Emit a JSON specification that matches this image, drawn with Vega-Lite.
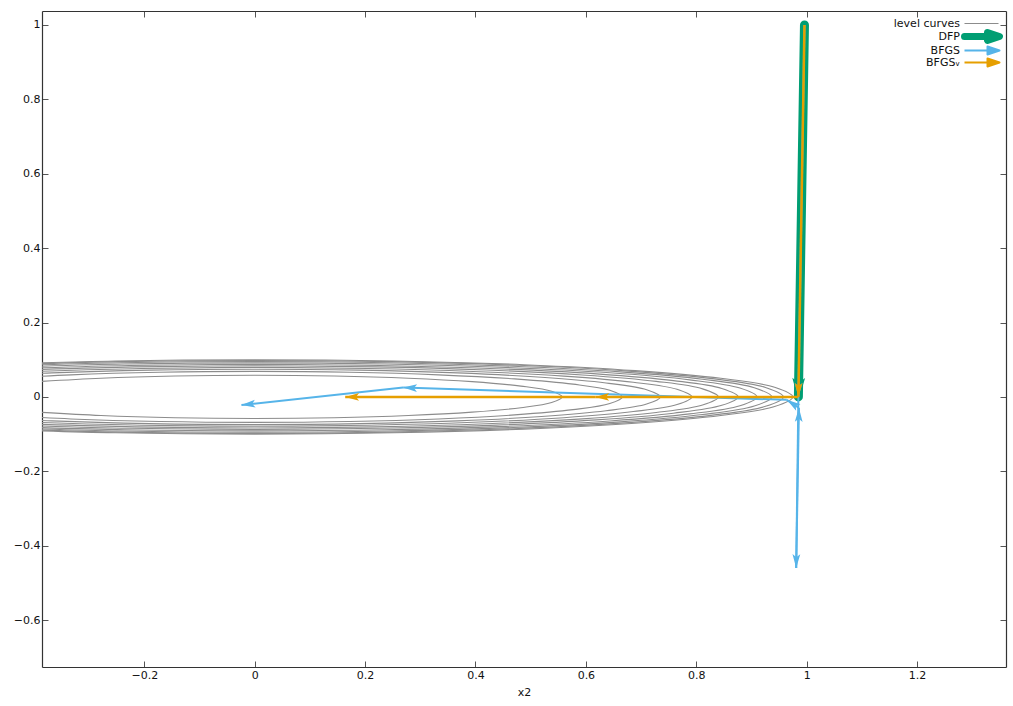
{
  "$schema": "https://vega.github.io/schema/vega-lite/v6.json",
  "width": 964,
  "height": 656,
  "autosize": {"type": "none"},
  "padding": {"left": 42, "top": 11, "right": 7, "bottom": 39},
  "background": "white",
  "datasets": {
    "contours": [
      {"c":1,"i":0,"x":-0.3938,"y":0.041},{"c":1,"i":1,"x":-0.2785,"y":0.0502},{"c":1,"i":2,"x":-0.1443,"y":0.056},{"c":1,"i":3,"x":0,"y":0.058},{"c":1,"i":4,"x":0.1443,"y":0.056},{"c":1,"i":5,"x":0.2785,"y":0.0502},{"c":1,"i":6,"x":0.3938,"y":0.041},{"c":1,"i":7,"x":0.4824,"y":0.029},{"c":1,"i":8,"x":0.538,"y":0.015},{"c":1,"i":9,"x":0.557,"y":0},
      {"c":1,"i":10,"x":0.538,"y":-0.015},{"c":1,"i":11,"x":0.4824,"y":-0.029},{"c":1,"i":12,"x":0.3938,"y":-0.041},{"c":1,"i":13,"x":0.2785,"y":-0.0502},{"c":1,"i":14,"x":0.1443,"y":-0.056},{"c":1,"i":15,"x":0,"y":-0.058},{"c":1,"i":16,"x":-0.1443,"y":-0.056},{"c":1,"i":17,"x":-0.2785,"y":-0.0502},{"c":1,"i":18,"x":-0.3938,"y":-0.041},

      {"c":2,"i":0,"x":-0.4709,"y":0.0484},{"c":2,"i":1,"x":-0.333,"y":0.0593},{"c":2,"i":2,"x":-0.1725,"y":0.0662},{"c":2,"i":3,"x":0,"y":0.0685},{"c":2,"i":4,"x":0.1725,"y":0.0662},{"c":2,"i":5,"x":0.333,"y":0.0593},{"c":2,"i":6,"x":0.4709,"y":0.0484},{"c":2,"i":7,"x":0.5768,"y":0.0343},{"c":2,"i":8,"x":0.6434,"y":0.0177},{"c":2,"i":9,"x":0.666,"y":0},
      {"c":2,"i":10,"x":0.6434,"y":-0.0177},{"c":2,"i":11,"x":0.5768,"y":-0.0343},{"c":2,"i":12,"x":0.4709,"y":-0.0484},{"c":2,"i":13,"x":0.333,"y":-0.0593},{"c":2,"i":14,"x":0.1725,"y":-0.0662},{"c":2,"i":15,"x":0,"y":-0.0685},{"c":2,"i":16,"x":-0.1725,"y":-0.0662},{"c":2,"i":17,"x":-0.333,"y":-0.0593},{"c":2,"i":18,"x":-0.4709,"y":-0.0484},

      {"c":3,"i":0,"x":-0.5196,"y":0.0527},{"c":3,"i":1,"x":-0.3675,"y":0.0645},{"c":3,"i":2,"x":-0.1904,"y":0.072},{"c":3,"i":3,"x":0,"y":0.0745},{"c":3,"i":4,"x":0.1904,"y":0.072},{"c":3,"i":5,"x":0.3675,"y":0.0645},{"c":3,"i":6,"x":0.5196,"y":0.0527},{"c":3,"i":7,"x":0.6365,"y":0.0373},{"c":3,"i":8,"x":0.71,"y":0.0193},{"c":3,"i":9,"x":0.735,"y":0},
      {"c":3,"i":10,"x":0.71,"y":-0.0193},{"c":3,"i":11,"x":0.6365,"y":-0.0373},{"c":3,"i":12,"x":0.5196,"y":-0.0527},{"c":3,"i":13,"x":0.3675,"y":-0.0645},{"c":3,"i":14,"x":0.1904,"y":-0.072},{"c":3,"i":15,"x":0,"y":-0.0745},{"c":3,"i":16,"x":-0.1904,"y":-0.072},{"c":3,"i":17,"x":-0.3675,"y":-0.0645},{"c":3,"i":18,"x":-0.5196,"y":-0.0527},

      {"c":4,"i":0,"x":-0.396,"y":0.0684},{"c":4,"i":1,"x":-0.2051,"y":0.0763},{"c":4,"i":2,"x":0,"y":0.079},{"c":4,"i":3,"x":0.2051,"y":0.0763},{"c":4,"i":4,"x":0.396,"y":0.0684},{"c":4,"i":5,"x":0.56,"y":0.0559},{"c":4,"i":6,"x":0.6859,"y":0.0395},{"c":4,"i":7,"x":0.7651,"y":0.0205},{"c":4,"i":8,"x":0.792,"y":0},
      {"c":4,"i":9,"x":0.7651,"y":-0.0205},{"c":4,"i":10,"x":0.6859,"y":-0.0395},{"c":4,"i":11,"x":0.56,"y":-0.0559},{"c":4,"i":12,"x":0.396,"y":-0.0684},{"c":4,"i":13,"x":0.2051,"y":-0.0763},{"c":4,"i":14,"x":0,"y":-0.079},{"c":4,"i":15,"x":-0.2051,"y":-0.0763},{"c":4,"i":16,"x":-0.396,"y":-0.0684},

      {"c":5,"i":0,"x":-0.42,"y":0.0723},{"c":5,"i":1,"x":-0.2176,"y":0.0807},{"c":5,"i":2,"x":0,"y":0.0835},{"c":5,"i":3,"x":0.2176,"y":0.0807},{"c":5,"i":4,"x":0.42,"y":0.0723},{"c":5,"i":5,"x":0.5939,"y":0.059},{"c":5,"i":6,"x":0.7274,"y":0.0418},{"c":5,"i":7,"x":0.8114,"y":0.0216},{"c":5,"i":8,"x":0.84,"y":0},
      {"c":5,"i":9,"x":0.8114,"y":-0.0216},{"c":5,"i":10,"x":0.7274,"y":-0.0418},{"c":5,"i":11,"x":0.5939,"y":-0.059},{"c":5,"i":12,"x":0.42,"y":-0.0723},{"c":5,"i":13,"x":0.2176,"y":-0.0807},{"c":5,"i":14,"x":0,"y":-0.0835},{"c":5,"i":15,"x":-0.2176,"y":-0.0807},{"c":5,"i":16,"x":-0.42,"y":-0.0723},

      {"c":6,"i":0,"x":-0.438,"y":0.0758},{"c":6,"i":1,"x":-0.2269,"y":0.0845},{"c":6,"i":2,"x":0,"y":0.0875},{"c":6,"i":3,"x":0.2269,"y":0.0845},{"c":6,"i":4,"x":0.438,"y":0.0758},{"c":6,"i":5,"x":0.6193,"y":0.0619},{"c":6,"i":6,"x":0.7586,"y":0.0438},{"c":6,"i":7,"x":0.8462,"y":0.0227},{"c":6,"i":8,"x":0.876,"y":0},
      {"c":6,"i":9,"x":0.8462,"y":-0.0227},{"c":6,"i":10,"x":0.7586,"y":-0.0438},{"c":6,"i":11,"x":0.6193,"y":-0.0619},{"c":6,"i":12,"x":0.438,"y":-0.0758},{"c":6,"i":13,"x":0.2269,"y":-0.0845},{"c":6,"i":14,"x":0,"y":-0.0875},{"c":6,"i":15,"x":-0.2269,"y":-0.0845},{"c":6,"i":16,"x":-0.438,"y":-0.0758},

      {"c":7,"i":0,"x":-0.455,"y":0.0792},{"c":7,"i":1,"x":-0.2357,"y":0.0884},{"c":7,"i":2,"x":0,"y":0.0915},{"c":7,"i":3,"x":0.2357,"y":0.0884},{"c":7,"i":4,"x":0.455,"y":0.0792},{"c":7,"i":5,"x":0.6434,"y":0.0647},{"c":7,"i":6,"x":0.7881,"y":0.0458},{"c":7,"i":7,"x":0.8791,"y":0.0237},{"c":7,"i":8,"x":0.91,"y":0},
      {"c":7,"i":9,"x":0.8791,"y":-0.0237},{"c":7,"i":10,"x":0.7881,"y":-0.0458},{"c":7,"i":11,"x":0.6434,"y":-0.0647},{"c":7,"i":12,"x":0.455,"y":-0.0792},{"c":7,"i":13,"x":0.2357,"y":-0.0884},{"c":7,"i":14,"x":0,"y":-0.0915},{"c":7,"i":15,"x":-0.2357,"y":-0.0884},{"c":7,"i":16,"x":-0.455,"y":-0.0792},

      {"c":8,"i":0,"x":-0.4685,"y":0.0823},{"c":8,"i":1,"x":-0.2427,"y":0.0918},{"c":8,"i":2,"x":0,"y":0.095},{"c":8,"i":3,"x":0.2427,"y":0.0918},{"c":8,"i":4,"x":0.4685,"y":0.0823},{"c":8,"i":5,"x":0.6625,"y":0.0672},{"c":8,"i":6,"x":0.8114,"y":0.0475},{"c":8,"i":7,"x":0.9051,"y":0.0246},{"c":8,"i":8,"x":0.937,"y":0},
      {"c":8,"i":9,"x":0.9051,"y":-0.0246},{"c":8,"i":10,"x":0.8114,"y":-0.0475},{"c":8,"i":11,"x":0.6625,"y":-0.0672},{"c":8,"i":12,"x":0.4685,"y":-0.0823},{"c":8,"i":13,"x":0.2427,"y":-0.0918},{"c":8,"i":14,"x":0,"y":-0.095},{"c":8,"i":15,"x":-0.2427,"y":-0.0918},{"c":8,"i":16,"x":-0.4685,"y":-0.0823},

      {"c":9,"i":0,"x":-0.479,"y":0.0849},{"c":9,"i":1,"x":-0.2481,"y":0.0947},{"c":9,"i":2,"x":0,"y":0.098},{"c":9,"i":3,"x":0.2481,"y":0.0947},{"c":9,"i":4,"x":0.479,"y":0.0849},{"c":9,"i":5,"x":0.6773,"y":0.0693},{"c":9,"i":6,"x":0.8296,"y":0.049},{"c":9,"i":7,"x":0.9254,"y":0.0254},{"c":9,"i":8,"x":0.958,"y":0},
      {"c":9,"i":9,"x":0.9254,"y":-0.0254},{"c":9,"i":10,"x":0.8296,"y":-0.049},{"c":9,"i":11,"x":0.6773,"y":-0.0693},{"c":9,"i":12,"x":0.479,"y":-0.0849},{"c":9,"i":13,"x":0.2481,"y":-0.0947},{"c":9,"i":14,"x":0,"y":-0.098},{"c":9,"i":15,"x":-0.2481,"y":-0.0947},{"c":9,"i":16,"x":-0.479,"y":-0.0849},

      {"c":10,"i":0,"x":-0.4875,"y":0.0866},{"c":10,"i":1,"x":-0.2525,"y":0.0966},{"c":10,"i":2,"x":0,"y":0.1},{"c":10,"i":3,"x":0.2525,"y":0.0966},{"c":10,"i":4,"x":0.4875,"y":0.0866},{"c":10,"i":5,"x":0.6893,"y":0.0707},{"c":10,"i":6,"x":0.8444,"y":0.05},{"c":10,"i":7,"x":0.9419,"y":0.0259},{"c":10,"i":8,"x":0.975,"y":0},
      {"c":10,"i":9,"x":0.9419,"y":-0.0259},{"c":10,"i":10,"x":0.8444,"y":-0.05},{"c":10,"i":11,"x":0.6893,"y":-0.0707},{"c":10,"i":12,"x":0.4875,"y":-0.0866},{"c":10,"i":13,"x":0.2525,"y":-0.0966},{"c":10,"i":14,"x":0,"y":-0.1},{"c":10,"i":15,"x":-0.2525,"y":-0.0966},{"c":10,"i":16,"x":-0.4875,"y":-0.0866}
    ],
    "steps": [
      {"m":"DFP","x1":0.996,"y1":1.0,"x2":0.985,"y2":0.0},
      {"m":"BFGS","x1":0.996,"y1":1.0,"x2":0.985,"y2":0.0},
      {"m":"BFGS","x1":0.985,"y1":0.0,"x2":0.981,"y2":-0.46},
      {"m":"BFGS","x1":0.981,"y1":-0.46,"x2":0.986,"y2":-0.03},
      {"m":"BFGS","x1":0.986,"y1":-0.03,"x2":0.964,"y2":-0.008},
      {"m":"BFGS","x1":0.964,"y1":-0.008,"x2":0.269,"y2":0.025},
      {"m":"BFGS","x1":0.269,"y1":0.025,"x2":-0.024,"y2":-0.022},
      {"m":"BFGSᵥ","x1":0.996,"y1":1.0,"x2":0.985,"y2":0.0},
      {"m":"BFGSᵥ","x1":0.985,"y1":0.0,"x2":0.617,"y2":0.0},
      {"m":"BFGSᵥ","x1":0.617,"y1":0.0,"x2":0.164,"y2":0.0}
    ]
  },
  "resolve": {"axis": {"x": "independent", "y": "independent"}},
  "layer": [
    {
      "data": {"name": "contours"},
      "mark": {"type": "line", "clip": true, "strokeWidth": 1.1, "interpolate": "catmull-rom"},
      "encoding": {
        "x": {"field": "x", "type": "quantitative", "scale": {"domain": [-0.3853, 1.3611], "nice": false, "zero": false},
              "axis": {"orient": "bottom", "values": [-0.2, 0, 0.2, 0.4, 0.6, 0.8, 1, 1.2], "format": "~g", "title": "x2", "labelPadding": 8, "titlePadding": 6}},
        "y": {"field": "y", "type": "quantitative", "scale": {"domain": [-0.7263, 1.0376], "nice": false, "zero": false},
              "axis": {"orient": "left", "values": [-0.6, -0.4, -0.2, 0, 0.2, 0.4, 0.6, 0.8, 1], "format": "~g", "title": null, "labelPadding": 8}},
        "detail": {"field": "c", "type": "nominal"},
        "order": {"field": "i", "type": "quantitative"},
        "color": {
          "datum": "level curves",
          "type": "nominal",
          "title": null,
          "scale": {"domain": ["level curves", "DFP", "BFGS", "BFGSᵥ"], "range": ["#8c8c8c", "#009e73", "#56b4e9", "#e69f00"]},
          "legend": {
            "title": null,
            "orient": "none",
            "legendX": 934,
            "legendY": 7,
            "direction": "vertical",
            "padding": 0,
            "rowPadding": 0,
            "symbolSize": 100,
            "labelAlign": "right",
            "labelOffset": -27,
            "labelFont": "DejaVu Sans",
            "labelFontSize": 11,
            "labelColor": "#111111",
            "encode": {
              "symbols": {
                "update": {
                  "shape": {"signal": "datum.value === 'level curves' ? 'M-3.4,0H3.4' : 'M-3.4,0H1.8M1.2,-0.8L3.6,0L1.2,0.8Z'"},
                  "strokeWidth": {"signal": "datum.value === 'DFP' ? 7 : (datum.value === 'level curves' ? 1.2 : 2)"},
                  "fill": {"signal": "datum.value === 'level curves' ? 'transparent' : scale('color', datum.value)"},
                  "stroke": {"signal": "datum.value === 'level curves' ? '#a8a8a8' : scale('color', datum.value)"},
                  "strokeCap": {"signal": "datum.value === 'DFP' ? 'round' : 'butt'"},
                  "strokeJoin": {"value": "round"},
                  "opacity": {"value": 1},
                  "fillOpacity": {"value": 1},
                  "strokeOpacity": {"value": 1}
                }
              }
            }
          }
        }
      }
    },
    {
      "data": {"name": "steps"},
      "transform": [{"filter": "datum.m === 'DFP'"}],
      "mark": {"type": "rule", "strokeWidth": 9, "strokeCap": "round", "opacity": 1},
      "encoding": {
        "x": {"field": "x1", "type": "quantitative", "axis": {"orient": "top", "labels": false, "title": null, "values": [-0.2, 0, 0.2, 0.4, 0.6, 0.8, 1, 1.2]}},
        "y": {"field": "y1", "type": "quantitative", "axis": {"orient": "right", "labels": false, "title": null, "values": [-0.6, -0.4, -0.2, 0, 0.2, 0.4, 0.6, 0.8, 1]}},
        "x2": {"field": "x2"},
        "y2": {"field": "y2"},
        "color": {"field": "m", "type": "nominal", "title": null}
      }
    },
    {
      "data": {"name": "steps"},
      "transform": [
        {"filter": "datum.m === 'DFP'"},
        {"calculate": "atan2((datum.x2 - datum.x1) * 552, (datum.y2 - datum.y1) * 372) * 180 / PI", "as": "ang"}
      ],
      "mark": {"type": "point", "shape": "M0,0L-0.45,1.6L0,1.25L0.45,1.6Z", "filled": true, "color": "#009e73", "stroke": "#009e73", "strokeWidth": 2, "size": 420, "opacity": 1},
      "encoding": {
        "x": {"field": "x2", "type": "quantitative", "axis": null},
        "y": {"field": "y2", "type": "quantitative", "axis": null},
        "angle": {"field": "ang", "type": "quantitative", "scale": null}
      }
    },
    {
      "data": {"name": "steps"},
      "transform": [{"filter": "datum.m === 'BFGS'"}],
      "mark": {"type": "rule", "strokeWidth": 2, "opacity": 1},
      "encoding": {
        "x": {"field": "x1", "type": "quantitative", "axis": null},
        "y": {"field": "y1", "type": "quantitative", "axis": null},
        "x2": {"field": "x2"},
        "y2": {"field": "y2"},
        "color": {"field": "m", "type": "nominal", "title": null}
      }
    },
    {
      "data": {"name": "steps"},
      "transform": [
        {"filter": "datum.m === 'BFGS'"},
        {"calculate": "atan2((datum.x2 - datum.x1) * 552, (datum.y2 - datum.y1) * 372) * 180 / PI", "as": "ang"}
      ],
      "mark": {"type": "point", "shape": "M0,0L-0.45,1.6L0,1.25L0.45,1.6Z", "filled": true, "color": "#56b4e9", "size": 300, "opacity": 1},
      "encoding": {
        "x": {"field": "x2", "type": "quantitative", "axis": null},
        "y": {"field": "y2", "type": "quantitative", "axis": null},
        "angle": {"field": "ang", "type": "quantitative", "scale": null}
      }
    },
    {
      "data": {"name": "steps"},
      "transform": [{"filter": "datum.m === 'BFGSᵥ'"}],
      "mark": {"type": "rule", "strokeWidth": 2.5, "opacity": 1},
      "encoding": {
        "x": {"field": "x1", "type": "quantitative", "axis": null},
        "y": {"field": "y1", "type": "quantitative", "axis": null},
        "x2": {"field": "x2"},
        "y2": {"field": "y2"},
        "color": {"field": "m", "type": "nominal", "title": null}
      }
    },
    {
      "data": {"name": "steps"},
      "transform": [
        {"filter": "datum.m === 'BFGSᵥ'"},
        {"calculate": "atan2((datum.x2 - datum.x1) * 552, (datum.y2 - datum.y1) * 372) * 180 / PI", "as": "ang"}
      ],
      "mark": {"type": "point", "shape": "M0,0L-0.45,1.6L0,1.25L0.45,1.6Z", "filled": true, "color": "#e69f00", "size": 300, "opacity": 1},
      "encoding": {
        "x": {"field": "x2", "type": "quantitative", "axis": null},
        "y": {"field": "y2", "type": "quantitative", "axis": null},
        "angle": {"field": "ang", "type": "quantitative", "scale": null}
      }
    }
  ],
  "config": {
    "font": "DejaVu Sans",
    "view": {"stroke": null},
    "axis": {
      "grid": false,
      "domainColor": "#333333",
      "domainWidth": 1.2,
      "tickColor": "#555555",
      "tickWidth": 1,
      "tickSize": -6,
      "labelFont": "DejaVu Sans",
      "labelFontSize": 11,
      "labelColor": "#111111",
      "titleFont": "DejaVu Sans",
      "titleFontSize": 11,
      "titleFontWeight": "normal",
      "titleColor": "#111111"
    }
  }
}
